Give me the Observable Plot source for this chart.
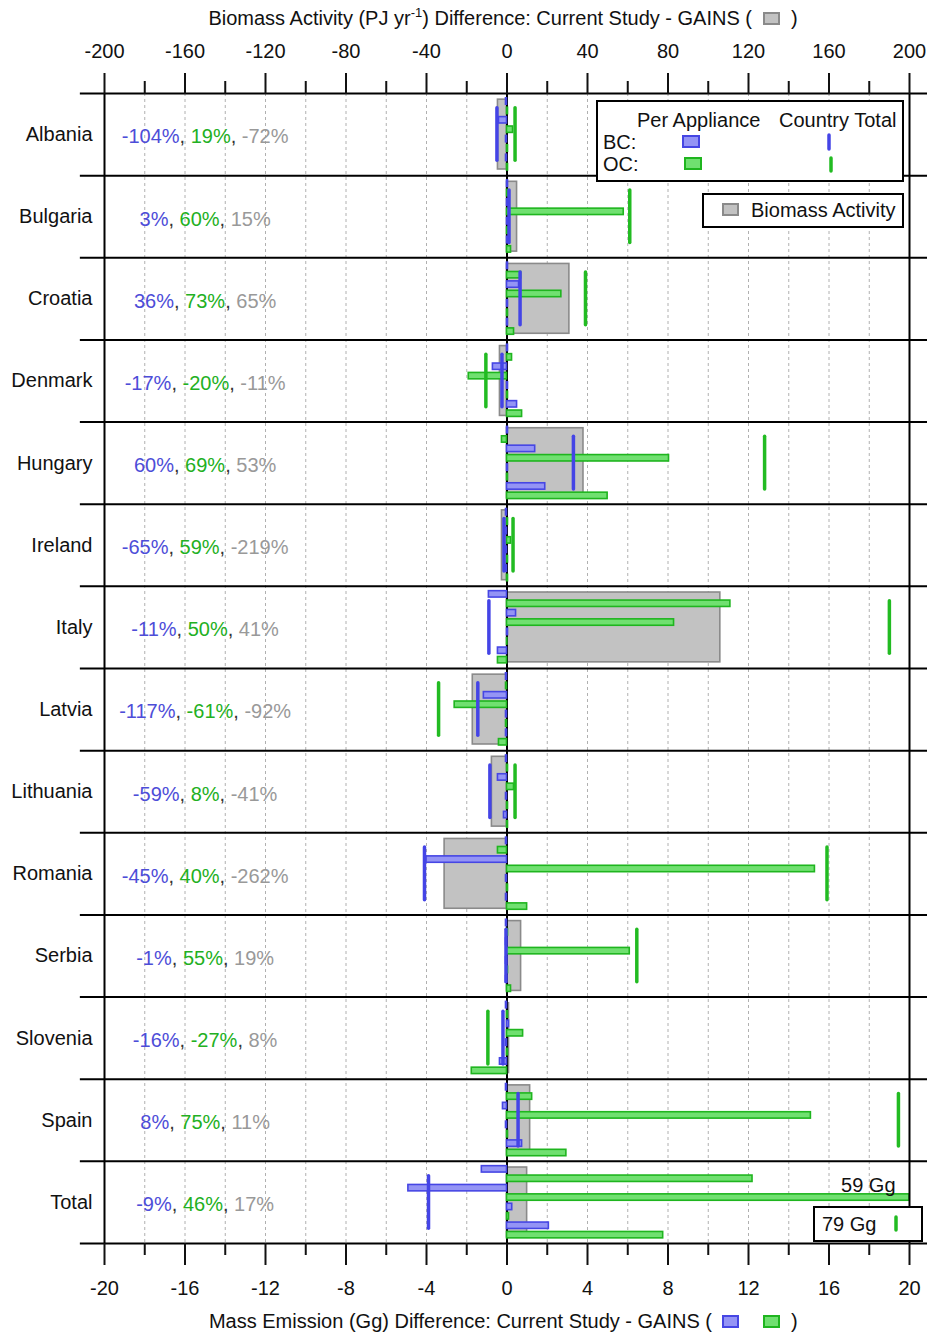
<!DOCTYPE html>
<html><head><meta charset="utf-8">
<script src="https://cdn.jsdelivr.net/npm/d3@7"></script>
<script src="https://cdn.jsdelivr.net/npm/@observablehq/plot@0.6"></script>
<style>body{margin:0;background:#fff;font-family:"Liberation Sans",Arial,sans-serif}</style>
</head><body><div id="chart"></div>
<script>
const countries = ["Albania","Bulgaria","Croatia","Denmark","Hungary","Ireland","Italy","Latvia","Lithuania","Romania","Serbia","Slovenia","Spain","Total"];
// Biomass activity difference (PJ/yr)
const activityPJ = [-4.5, 5, 31, -3.5, 38, -2.5, 106, -17, -7.5, -31, 7, 1, 11.5, 10];
// per-appliance differences (Gg), 4 appliance types
const bcAppliance = [
 [-0.05,-0.4,-0.05,-0.05],
 [0.05,0.05,0.05,0.05],
 [0.05,0.6,0.05,0.05],
 [0.05,-0.7,0.05,0.5],
 [0.05,1.4,0.05,1.9],
 [-0.05,-0.1,-0.05,-0.05],
 [-0.9,0.45,0.05,-0.45],
 [-0.05,-1.15,-0.05,-0.05],
 [-0.05,-0.45,-0.05,-0.15],
 [-0.05,-4.0,-0.05,-0.05],
 [-0.05,-0.05,-0.05,-0.05],
 [-0.05,0.1,-0.05,-0.35],
 [-0.05,-0.2,-0.05,0.75],
 [-1.25,-4.9,0.26,2.08]
];
const ocAppliance = [
 [0.05,0.3,0.05,0.05],
 [0.05,5.8,0.05,0.2],
 [0.7,2.7,0.05,0.35],
 [0.25,-1.9,0.05,0.75],
 [-0.25,8.05,0.05,5.0],
 [0.05,0.2,0.05,0.05],
 [11.1,8.3,0.02,-0.45],
 [-0.05,-2.6,-0.05,-0.4],
 [0.05,0.35,0.05,0.05],
 [-0.45,15.3,0.05,1.0],
 [0.05,6.1,0.05,0.2],
 [0.05,0.8,0.05,-1.75],
 [1.25,15.1,0.05,2.95],
 [12.2,59,0.1,7.76]
];
// country totals (Gg)
const bcTotal = [-0.5,0.1,0.65,-0.25,3.3,-0.15,-0.9,-1.45,-0.85,-4.1,-0.05,-0.2,0.55,-3.9];
const ocTotal = [0.4,6.1,3.9,-1.05,12.8,0.3,19.0,-3.4,0.4,15.9,6.45,-0.95,19.45,79];
// percentages
const pctBC = [-104,3,36,-17,60,-65,-11,-117,-59,-45,-1,-16,8,-9];
const pctOC = [19,60,73,-20,69,59,50,-61,8,40,55,-27,75,46];
const pctActivity = [-72,15,65,-11,53,-219,41,-92,-41,-262,19,8,11,17];
const majorTicks = [-20,-16,-12,-8,-4,0,4,8,12,16,20];
const minorTicks = [-18,-14,-10,-6,-2,2,6,10,14,18];
const gridTicks = [-18,-16,-14,-12,-10,-8,-6,-4,-2,2,4,6,8,10,12,14,16,18];

const C = {bcFill:"#9494f5", bcStroke:"#4646e4", ocFill:"#70e070", ocStroke:"#1fb51f",
  actFill:"#c2c2c2", actStroke:"#8a8a8a", bcText:"#4d4dd8", ocText:"#22b022", actText:"#999999"};
const FONT = "Liberation Sans, Arial, sans-serif";
const FS = 20;
const ROWPX = 1150/14;
const slotY = s => (8 + 9.4*s)/ROWPX;
const HB = 3.2/ROWPX;

const rows = countries.map((c,i)=>({c,i,act:activityPJ[i],pct:`${pctBC[i]}%|${pctOC[i]}%|${pctActivity[i]}%`}));
const bars = [];
countries.forEach((c,i)=>{for(let k=0;k<4;k++){
  bars.push({i,slot:2*k,v:bcAppliance[i][k],type:"BC"});
  bars.push({i,slot:2*k+1,v:ocAppliance[i][k],type:"OC"});
}});
const totals = countries.flatMap((c,i)=>[{i,v:bcTotal[i],type:"BC"},{i,v:ocTotal[i],type:"OC"}]).filter(d=>Math.abs(d.v)<=20);
const clampX = v => Math.max(-20, Math.min(20, v));

const barMark = (type, fill, stroke) => Plot.rect(bars.filter(d=>d.type===type), {
  x1: 0, x2: d=>clampX(d.v), y1: d=>d.i+slotY(d.slot)-HB, y2: d=>d.i+slotY(d.slot)+HB,
  fill, stroke, strokeWidth: 1.6});

const svg = Plot.plot({
  width: 927, height: 1335,
  marginTop: 93, marginBottom: 92, marginLeft: 104, marginRight: 18,
  style: {fontFamily: FONT, fontSize: FS + "px", background: "#fff", color: "#111"},
  x: {domain: [-20, 20], axis: null},
  y: {domain: [0, 14], reverse: true, axis: null},
  marks: [
    Plot.ruleX(gridTicks, {x: d=>d, y1: 0, y2: 14, stroke: "#b0b0b0", strokeWidth: 1, strokeDasharray: "3,3"}),
    Plot.rect(rows, {x1: 0, x2: d=>d.act/10, y1: d=>d.i+0.075, y2: d=>d.i+0.925, fill: C.actFill, stroke: C.actStroke, strokeWidth: 1.6}),
    Plot.ruleX([0], {x: d=>d, y1: 0, y2: 14, stroke: "#000", strokeWidth: 2}),
    barMark("BC", C.bcFill, C.bcStroke),
    barMark("OC", C.ocFill, C.ocStroke),
    Plot.ruleX(totals.filter(d=>d.type==="BC"), {x: "v", y1: d=>d.i+0.18, y2: d=>d.i+0.82, stroke: "#4444e6", strokeWidth: 3.5, strokeLinecap: "round"}),
    Plot.ruleX(totals.filter(d=>d.type==="OC"), {x: "v", y1: d=>d.i+0.18, y2: d=>d.i+0.82, stroke: "#22bb22", strokeWidth: 3.5, strokeLinecap: "round"}),
    Plot.ruleX([-20, 20], {x: d=>d, y1: 0, y2: 14, stroke: "#000", strokeWidth: 2}),
    Plot.ruleY(d3.range(0, 15), {y: d=>d, x1: -21.2, x2: 20.9, stroke: "#000", strokeWidth: 2}),
    Plot.axisX(majorTicks, {anchor: "top", tickSize: 21, tickPadding: 15, strokeWidth: 2, label: null, fontSize: FS, tickFormat: d=>String(d*10)}),
    Plot.axisX(minorTicks, {anchor: "top", tickSize: 13, strokeWidth: 2, label: null, tickFormat: () => ""}),
    Plot.axisX(majorTicks, {anchor: "bottom", tickSize: 22, tickPadding: 15, strokeWidth: 2, label: null, fontSize: FS, tickFormat: d=>String(d)}),
    Plot.axisX(minorTicks, {anchor: "bottom", tickSize: 12, strokeWidth: 2, label: null, tickFormat: () => ""}),
    Plot.text(rows, {x: -20, y: d=>d.i+0.5, text: "c", textAnchor: "end", dx: -12, fontSize: FS, fill: "#111"}),
    Plot.text(rows, {x: -15, y: d=>d.i+0.53, text: "pct", textAnchor: "middle", fontSize: FS}),
    Plot.text(["59 Gg"], {x: 20, y: 13 + slotY(3) - 0.14, text: d=>d, textAnchor: "end", dx: -14, fontSize: FS, fill: "#111"})
  ]
});
document.getElementById("chart").appendChild(svg);

const s = d3.select(svg);
// multicolor percentage text
s.selectAll("text").filter(function(){ return this.textContent.includes("|"); }).each(function(){
  const t = d3.select(this);
  const parts = this.textContent.split("|");
  t.text(null);
  t.append("tspan").attr("fill", C.bcText).text(parts[0]);
  t.append("tspan").attr("fill", "#333").text(", ");
  t.append("tspan").attr("fill", C.ocText).text(parts[1]);
  t.append("tspan").attr("fill", "#333").text(", ");
  t.append("tspan").attr("fill", C.actText).text(parts[2]);
});

const g = s.append("g").attr("font-family", FONT).attr("fill", "#111");
const txt = (x, y, str, size, anchor) => g.append("text").attr("x", x).attr("y", y).attr("font-size", size).attr("text-anchor", anchor||"start").text(str);
const sq = (x, y, w, h, fill, stroke) => g.append("rect").attr("x", x).attr("y", y).attr("width", w).attr("height", h).attr("fill", fill).attr("stroke", stroke).attr("stroke-width", 2);
const vline = (x, y1, y2, color) => g.append("line").attr("x1", x).attr("x2", x).attr("y1", y1).attr("y2", y2).attr("stroke", color).attr("stroke-width", 3.5).attr("stroke-linecap", "round");

// top title
const t1 = g.append("text").attr("x", 752).attr("y", 25).attr("font-size", FS).attr("text-anchor", "end");
t1.append("tspan").text("Biomass Activity (PJ yr");
t1.append("tspan").attr("dy", -8).attr("font-size", 13).text("-1");
t1.append("tspan").attr("dy", 8).text(") Difference: Current Study - GAINS (");
sq(764, 13, 15, 11, C.actFill, C.actStroke);
txt(791, 25, ")", FS);
// bottom title
txt(712, 1328, "Mass Emission (Gg) Difference: Current Study - GAINS (", FS, "end");
sq(723, 1316, 15, 11, C.bcFill, C.bcStroke);
sq(764, 1316, 15, 11, C.ocFill, C.ocStroke);
txt(791, 1328, ")", FS);

// legend box 1
g.append("rect").attr("x", 597).attr("y", 101).attr("width", 306).attr("height", 80).attr("fill", "#fff").attr("stroke", "#000").attr("stroke-width", 2);
txt(637, 127, "Per Appliance", FS);
txt(779, 127, "Country Total", FS);
txt(603, 149, "BC:", FS);
txt(603, 171, "OC:", FS);
sq(683, 136, 16, 11, C.bcFill, C.bcStroke);
sq(685, 158, 16, 11, C.ocFill, C.ocStroke);
vline(829, 135, 149, "#4444e6");
vline(831, 158, 171, "#22bb22");
// legend box 2
g.append("rect").attr("x", 703).attr("y", 194).attr("width", 200).attr("height", 33).attr("fill", "#fff").attr("stroke", "#000").attr("stroke-width", 2);
sq(723, 204, 15, 11, C.actFill, C.actStroke);
txt(751, 217, "Biomass Activity", FS);
// 79 Gg box
g.append("rect").attr("x", 814).attr("y", 1207).attr("width", 108).attr("height", 34).attr("fill", "#fff").attr("stroke", "#000").attr("stroke-width", 2);
txt(822, 1231, "79 Gg", FS);
vline(896, 1217, 1230, "#22bb22");
</script></body></html>
